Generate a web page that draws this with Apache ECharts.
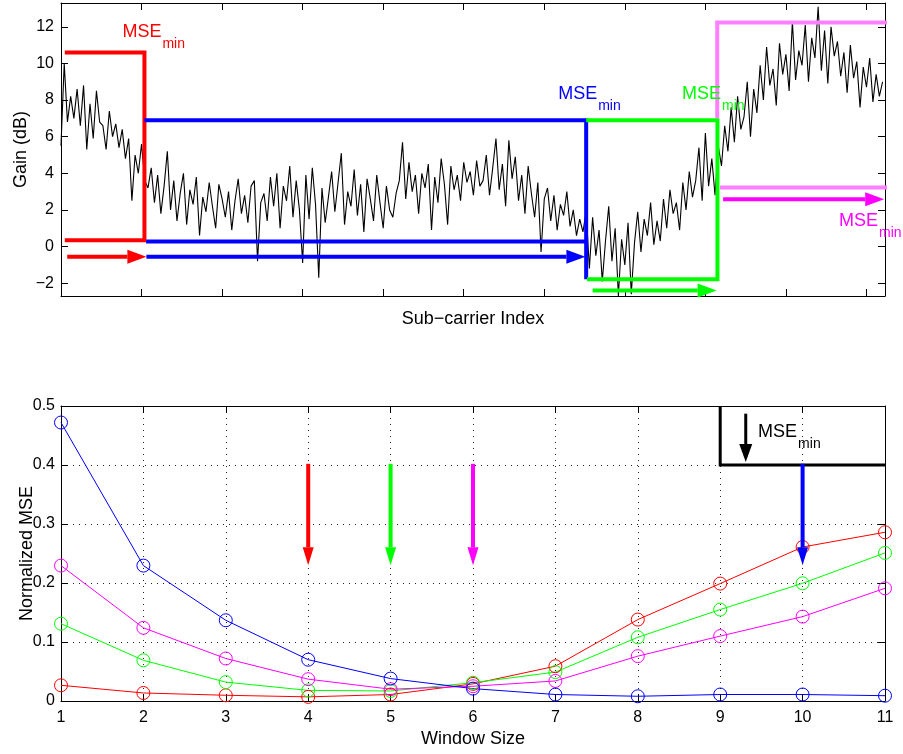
<!DOCTYPE html>
<html>
<head>
<meta charset="utf-8">
<script src="https://cdn.jsdelivr.net/npm/echarts@6/dist/echarts.min.js"></script>
<style>
html,body{margin:0;padding:0;background:#fff;}
#c{width:903px;height:754px;}
</style>
</head>
<body>
<div id="c"></div>
<script>
// ---------- Top panel data ----------
const subcarrierStep = 4; // one reading every 4 sub-carriers, starting at 0
const gainDb = [
  5.5, 10.0, 6.8, 8.2, 7.0, 8.6, 6.6, 8.8, 5.3, 7.8, 5.9, 8.5, 6.8,
  6.6, 5.3, 7.4, 6.0, 6.7, 5.4, 6.4, 4.8, 5.9, 2.5, 5.0, 4.0, 5.6, 3.6,
  3.2, 4.3, 2.4, 3.9, 1.8, 3.3, 5.2, 2.0, 3.6, 1.4, 2.9, 4.0, 1.2, 3.1, 2.3, 3.8, 0.6, 2.7,
  1.9, 3.5, 2.2, 1.0, 3.4, 2.6, 1.6, 3.0, 0.9, 2.5, 3.7, 1.8, 2.8, 1.3, 3.3, 3.6, -0.8, 2.4,
  2.9, 1.4, 3.8, 2.2, 4.0, 1.0, 3.3, 2.5, 4.4, 1.6, 3.6, 2.0, -0.9, 3.9, 1.5, 4.3, 2.3, -1.7,
  3.2, 1.3, 2.7, 4.1, 1.9, 3.5, 5.1, 1.2, 3.0, 2.2, 4.2, 1.7, 3.4, 0.8, 3.7, 2.6, 1.4, 3.9,
  2.4, 1.0, 3.3, 2.0, 1.6, 2.9, 3.6, 5.7, 2.6, 4.6, 3.0, 3.9, 1.8, 4.0, 3.2, 4.5, 0.9, 3.8,
  2.4, 4.8, 3.4, 1.2, 4.4, 3.1, 3.9, 2.5, 4.6, 3.5, 4.1, 2.8, 4.7, 3.3,
  3.6, 5.0, 2.8, 4.3, 5.9, 3.1, 4.5, 2.2, 5.8, 3.7, 4.9, 2.5, 3.9, 1.8, 4.4,
  2.9, 1.6, 3.5, -0.3, 2.6, 3.2, 1.4, 2.8, 0.9, 2.3, 1.7, 3.0, 1.1, 2.0, 0.6, 1.5, 0.8, 1.9,
  -1.2, 1.6, -0.5, 0.9, -1.9, 0.3, 2.2, -0.8, 1.0, -2.7, 0.4, -1.0, 1.3, -2.6, 0.2, 1.9, -0.3, 1.5, 0.6, 2.4, 0.1,
  1.4, 0.3, 2.6, 1.0, 3.1, 1.8, 2.4, 0.9, 3.5, 2.0, 4.1, 2.7, 3.6, 5.4, 2.5, 6.2, 3.3, 4.8, 2.8, 5.5,
  4.4, 6.6, 5.2, 7.6, 5.7, 8.2, 6.4, 7.1, 9.0, 6.0, 8.6, 7.3, 9.9,
  8.0, 10.9, 8.8, 9.7, 7.7, 11.1, 9.4, 10.5, 8.5, 12.3, 9.1, 10.7,
  9.9, 12.1, 9.0, 11.4, 10.3, 13.1, 9.6, 11.8, 8.9, 12.0, 10.4, 11.2, 9.3,
  10.6, 8.4, 11.0, 9.2, 10.1, 7.6, 9.8, 8.7, 10.3, 7.9, 9.4, 8.2, 9.0
];
const topXTicks = [100, 200, 300, 400, 500, 600, 700, 800, 900, 1000];
const topYTicks = [-2, 0, 2, 4, 6, 8, 10, 12];

// window brackets (sub-carrier index, gain dB)
const redBracket   = [[4.7, 10.6], [103.6, 10.6], [103.6, 0.35], [4.7, 0.35]];
const blueTop      = [[103.6, 6.9], [652, 6.9], [652, -1.78]];
const blueBottom   = [[105.7, 0.28], [652, 0.28]];
const greenBracket = [[652, 6.9], [815, 6.9], [815, -1.78], [653, -1.78]];
const pinkTop      = [[814.7, 7.0], [814.7, 12.24], [1027, 12.24]];
const pinkBottom   = [[818, 3.22], [1027, 3.22]];
// arrows [x1, y1, x2, y2]
const topArrows = [
  [7.7, -0.55, 106, -0.55],
  [106, -0.55, 651, -0.55],
  [660, -2.4, 814, -2.4],
  [822, 2.58, 1022, 2.58]
];
const topArrowColors = ['#ff0000', '#0000ff', '#00ff00', '#ff00ff'];
// "MSE_min" label anchors (left, baseline)
const topLabels = [[76.3, 11.39], [617.2, 8.0], [771.1, 8.0], [965.9, 1.07]];
const topLabelColors = ['#ff0000', '#0000ff', '#00ff00', '#ff00ff'];

// ---------- Bottom panel data ----------
const windowSizes = [1, 2, 3, 4, 5, 6, 7, 8, 9, 10, 11];
const mseRed     = [0.0266, 0.0136, 0.0097, 0.007, 0.011, 0.029, 0.059, 0.138, 0.199, 0.261, 0.286];
const mseGreen   = [0.131, 0.069, 0.032, 0.018, 0.017, 0.031, 0.049, 0.108, 0.155, 0.1995, 0.251];
const mseMagenta = [0.2295, 0.124, 0.072, 0.037, 0.020, 0.025, 0.034, 0.076, 0.110, 0.143, 0.191];
const mseBlue    = [0.472, 0.2295, 0.1368, 0.070, 0.038, 0.021, 0.011, 0.008, 0.011, 0.011, 0.009];
const bottomArrows = [
  [4, 0.402, 4, 0.23],
  [5, 0.402, 5, 0.23],
  [6, 0.402, 6, 0.23],
  [10, 0.402, 10, 0.23]
];
const bottomArrowColors = ['#ff0000', '#00ff00', '#ff00ff', '#0000ff'];
const legendArrow = [[9.31, 0.487, 9.31, 0.405]];
const legendBox = [[9, 0.5], [9, 0.4], [11, 0.4]];
const legendLabel = [[9.46, 0.445]];

// ---------- helpers ----------
const FONT = '"Liberation Sans", Arial, Helvetica, sans-serif';
const minus = v => (v < 0 ? '\u2212' + Math.abs(v) : String(v));

function arrowRenderer(lw, hl, hw) {
  return function (params, api) {
    const a = api.coord([api.value(0), api.value(1)]);
    const b = api.coord([api.value(2), api.value(3)]);
    const c = api.visual('color');
    const dx = b[0] - a[0], dy = b[1] - a[1];
    const L = Math.sqrt(dx * dx + dy * dy) || 1;
    const ux = dx / L, uy = dy / L;
    const bx = b[0] - ux * hl, by = b[1] - uy * hl;
    const nx = -uy, ny = ux;
    return {
      type: 'group',
      children: [
        { type: 'line', shape: { x1: a[0], y1: a[1], x2: bx, y2: by }, style: { stroke: c, lineWidth: lw } },
        { type: 'polygon', shape: { points: [[b[0], b[1]], [bx + nx * hw / 2, by + ny * hw / 2], [bx - nx * hw / 2, by - ny * hw / 2]] }, style: { fill: c } }
      ]
    };
  };
}
function labelRenderer(params, api) {
  const p = api.coord([api.value(0), api.value(1)]);
  const c = api.visual('color');
  return {
    type: 'group',
    children: [
      { type: 'text', style: { text: 'MSE', x: p[0], y: p[1] + 3, fill: c, font: '18px ' + FONT, align: 'left', verticalAlign: 'bottom' } },
      { type: 'text', style: { text: 'min', x: p[0] + 40, y: p[1] + 13, fill: c, font: '14px ' + FONT, align: 'left', verticalAlign: 'bottom' } }
    ]
  };
}
function poly(data, color, width, xi, yi) {
  return {
    type: 'line', data: data, xAxisIndex: xi, yAxisIndex: yi, symbol: 'none', clip: false, silent: true,
    lineStyle: { color: color, width: width, cap: 'butt', join: 'miter' }, z: 5
  };
}
function colored(data, colors) {
  return data.map((d, i) => ({ value: d, itemStyle: { color: colors[i] } }));
}
const boxAxisCommon = {
  axisLine: { onZero: false, lineStyle: { color: '#000', width: 1 } },
  axisLabel: { color: '#000', fontFamily: FONT, fontSize: 16 },
  nameMoveOverlap: false,
  nameTextStyle: { color: '#000', fontFamily: FONT, fontSize: 18 }
};
function mseSeries(vals, color) {
  return {
    type: 'line', xAxisIndex: 2, yAxisIndex: 2,
    data: windowSizes.map((w, i) => [w, vals[i]]),
    symbol: 'circle', symbolSize: 13,
    itemStyle: { color: 'rgba(0,0,0,0)', borderColor: color, borderWidth: 1 },
    lineStyle: { color: color, width: 1 },
    emphasis: { disabled: true }, silent: true, z: 4
  };
}
const dotted = { show: true, lineStyle: { color: '#222', width: 1, type: [1, 5] } };

const chart = echarts.init(document.getElementById('c'), null, { renderer: 'canvas' });
chart.setOption({
  animation: false,
  backgroundColor: '#fff',
  grid: [
    { left: 61, top: 3, width: 824, height: 293 },
    { left: 61, top: 406, width: 824, height: 295 }
  ],
  xAxis: [
    Object.assign({}, boxAxisCommon, {
      gridIndex: 0, type: 'value', min: 0, max: 1023, position: 'bottom',
      axisTick: { show: true, inside: true, length: 7, customValues: topXTicks, lineStyle: { color: '#000' } },
      axisLabel: { show: false }, splitLine: { show: false },
      name: 'Sub\u2212carrier Index', nameLocation: 'middle', nameGap: 14
    }),
    Object.assign({}, boxAxisCommon, {
      gridIndex: 0, type: 'value', min: 0, max: 1023, position: 'top',
      axisTick: { show: true, inside: true, length: 7, customValues: topXTicks, lineStyle: { color: '#000' } },
      axisLabel: { show: false }, splitLine: { show: false }
    }),
    Object.assign({}, boxAxisCommon, {
      gridIndex: 1, type: 'value', min: 1, max: 11, interval: 1, position: 'bottom',
      axisTick: { show: true, inside: true, length: 7, lineStyle: { color: '#000' } },
      axisLabel: { color: '#000', fontFamily: FONT, fontSize: 16, margin: 9 },
      splitLine: dotted,
      name: 'Window Size', nameLocation: 'middle', nameGap: 29
    }),
    Object.assign({}, boxAxisCommon, {
      gridIndex: 1, type: 'value', min: 1, max: 11, interval: 1, position: 'top',
      axisTick: { show: true, inside: true, length: 7, lineStyle: { color: '#000' } },
      axisLabel: { show: false }, splitLine: { show: false }
    })
  ],
  yAxis: [
    Object.assign({}, boxAxisCommon, {
      gridIndex: 0, type: 'value', min: -2.7, max: 13.3, position: 'left',
      axisTick: { show: true, inside: true, length: 7, customValues: topYTicks, lineStyle: { color: '#000' } },
      axisLabel: { color: '#000', fontFamily: FONT, fontSize: 16, margin: 7, customValues: topYTicks, formatter: minus },
      splitLine: { show: false },
      name: 'Gain (dB)', nameLocation: 'middle', nameRotate: 90, nameGap: 31
    }),
    Object.assign({}, boxAxisCommon, {
      gridIndex: 0, type: 'value', min: -2.7, max: 13.3, position: 'right',
      axisTick: { show: true, inside: true, length: 7, customValues: topYTicks, lineStyle: { color: '#000' } },
      axisLabel: { show: false }, splitLine: { show: false }
    }),
    Object.assign({}, boxAxisCommon, {
      gridIndex: 1, type: 'value', min: 0, max: 0.5, interval: 0.1, position: 'left',
      axisTick: { show: true, inside: true, length: 7, lineStyle: { color: '#000' } },
      axisLabel: { color: '#000', fontFamily: FONT, fontSize: 16, margin: 6 },
      splitLine: dotted,
      name: 'Normalized MSE', nameLocation: 'middle', nameRotate: 90, nameGap: 25
    }),
    Object.assign({}, boxAxisCommon, {
      gridIndex: 1, type: 'value', min: 0, max: 0.5, interval: 0.1, position: 'right',
      axisTick: { show: true, inside: true, length: 7, lineStyle: { color: '#000' } },
      axisLabel: { show: false }, splitLine: { show: false }
    })
  ],
  series: [
    {
      type: 'line', xAxisIndex: 0, yAxisIndex: 0, symbol: 'none', silent: true,
      data: gainDb.map((v, k) => [k * subcarrierStep, v]),
      lineStyle: { color: '#000', width: 1.1 }, z: 3
    },
    poly(redBracket, '#ff0000', 4, 0, 0),
    poly(blueTop, '#0000ff', 4, 0, 0),
    poly(blueBottom, '#0000ff', 4, 0, 0),
    poly(greenBracket, '#00ff00', 4, 0, 0),
    poly(pinkTop, '#ff80ff', 4, 0, 0),
    poly(pinkBottom, '#ff80ff', 4, 0, 0),
    {
      type: 'custom', xAxisIndex: 0, yAxisIndex: 0, silent: true, z: 6,
      renderItem: arrowRenderer(4, 19, 14), data: colored(topArrows, topArrowColors)
    },
    {
      type: 'custom', xAxisIndex: 0, yAxisIndex: 0, silent: true, z: 7,
      renderItem: labelRenderer, data: colored(topLabels, topLabelColors)
    },
    mseSeries(mseRed, '#ff0000'),
    mseSeries(mseGreen, '#00ff00'),
    mseSeries(mseMagenta, '#ff00ff'),
    mseSeries(mseBlue, '#0000ff'),
    poly(legendBox, '#000', 3, 2, 2),
    {
      type: 'custom', xAxisIndex: 2, yAxisIndex: 2, silent: true, z: 6,
      renderItem: arrowRenderer(4, 18, 11), data: colored(bottomArrows, bottomArrowColors)
    },
    {
      type: 'custom', xAxisIndex: 2, yAxisIndex: 2, silent: true, z: 6,
      renderItem: arrowRenderer(3, 18, 13), data: colored(legendArrow, ['#000'])
    },
    {
      type: 'custom', xAxisIndex: 2, yAxisIndex: 2, silent: true, z: 7,
      renderItem: labelRenderer, data: colored(legendLabel, ['#000'])
    }
  ]
});
</script>
</body>
</html>
